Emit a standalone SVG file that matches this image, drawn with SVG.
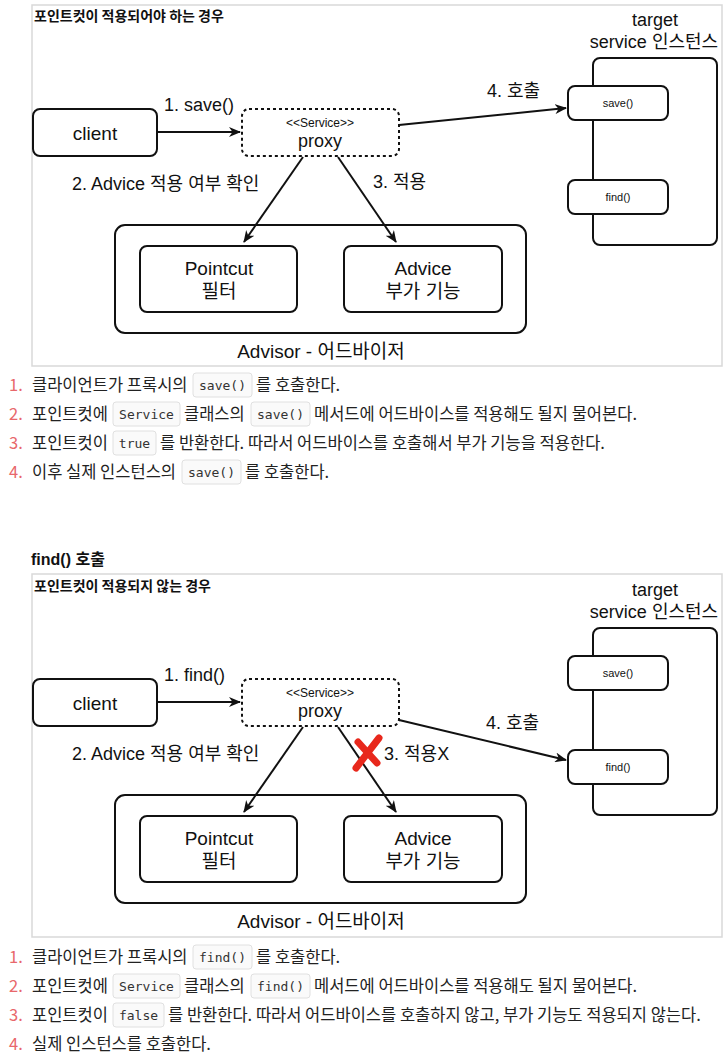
<svg xmlns="http://www.w3.org/2000/svg" width="728" height="1060" viewBox="0 0 728 1060">
<defs>
<marker id="arr" viewBox="0 0 12 10" refX="11" refY="5" markerWidth="12" markerHeight="10" orient="auto" markerUnits="userSpaceOnUse"><path d="M0,0 L12,5 L0,10 L3.5,5 z" fill="#111"/></marker>
</defs>
<style>
.frame{fill:#fff;stroke:#d9d9d9;stroke-width:1.5}
.box{fill:#fff;stroke:#111;stroke-width:2}
.dash{fill:#fff;stroke:#111;stroke-width:2;stroke-dasharray:3 3}
.ln{fill:none;stroke:#111;stroke-width:2;marker-end:url(#arr)}
.t{font-family:"Liberation Sans","Noto Sans CJK KR",sans-serif;fill:#111}
.lab{font-size:18px}
.big{font-size:19px;text-anchor:middle}
.mid{text-anchor:middle}
.sm{font-size:11px;text-anchor:middle}
.ttl{font-family:"Noto Sans CJK KR",sans-serif;font-size:14px;font-weight:bold;fill:#111}
.li{font-family:"Noto Sans CJK KR",sans-serif;font-size:16.5px;fill:#222}
.num{font-family:"Noto Sans CJK KR",sans-serif;font-size:16.5px;fill:#e8676b}
.chip{fill:#fafafa;stroke:#e0e0e0;stroke-width:1}
.code{font-family:"DejaVu Sans Mono",monospace;font-size:13px;fill:#333;text-anchor:middle}
.x{stroke:#e8281c;stroke-width:7;stroke-linecap:round}
</style>

<!-- ===== Diagram 1 ===== -->
<g id="frame1"><rect class="frame" x="32" y="5" width="690" height="361"/>
<text class="ttl" x="34" y="21">포인트컷이 적용되어야 하는 경우</text></g>

<g id="target1">
<rect class="box" x="593" y="58" width="124" height="187" rx="7"/>
<text class="t lab mid" x="655" y="26">target</text>
<text class="t lab mid" x="654" y="48">service 인스턴스</text>
</g>
<g id="save1"><rect class="box" x="568" y="86" width="100" height="34" rx="7"/><text class="t sm" x="618" y="107">save()</text></g>
<g id="find1"><rect class="box" x="568" y="180" width="100" height="34" rx="7"/><text class="t sm" x="618" y="201">find()</text></g>

<g id="client1"><rect class="box" x="33" y="109" width="124" height="47" rx="7"/><text class="t big" x="95" y="140">client</text></g>
<g id="proxy1"><rect class="dash" x="242" y="109" width="157" height="47" rx="7"/>
<text class="t mid" style="font-size:12px" x="320" y="127">&lt;&lt;Service&gt;&gt;</text>
<text class="t lab mid" x="320" y="147">proxy</text></g>

<g id="advisor1"><rect class="box" x="115" y="225" width="411" height="108" rx="10"/>
<text class="t big" x="321" y="358">Advisor - 어드바이저</text></g>
<g id="pointcut1"><rect class="box" x="140" y="246" width="157" height="66" rx="7"/>
<text class="t big" x="219" y="275">Pointcut</text><text class="t big" x="219" y="298">필터</text></g>
<g id="advice1"><rect class="box" x="344" y="246" width="158" height="66" rx="7"/>
<text class="t big" x="423" y="275">Advice</text><text class="t big" x="423" y="298">부가 기능</text></g>

<g id="connectors1">
<line class="ln" x1="157" y1="132" x2="240" y2="132"/>
<line class="ln" x1="399" y1="125" x2="566" y2="108"/>
<line class="ln" x1="303" y1="157" x2="244" y2="242"/>
<line class="ln" x1="338" y1="157" x2="396" y2="242"/>
</g>
<g id="labels1">
<text class="t lab" x="164" y="111">1. save()</text>
<text class="t lab" x="72" y="190">2. Advice 적용 여부 확인</text>
<text class="t lab" x="373" y="188">3. 적용</text>
<text class="t lab" x="487" y="97">4. 호출</text>
</g>

<!-- List 1 -->
<g id="list1">
<text class="num" x="9" y="391">1.</text>
<text class="li" x="32" y="391">클라이언트가 프록시의</text>
<rect class="chip" x="193" y="373" width="59" height="24" rx="3"/><text class="code" x="222.5" y="390">save()</text>
<text class="li" x="256" y="391">를 호출한다.</text>

<text class="num" x="9" y="420">2.</text>
<text class="li" x="32" y="420">포인트컷에</text>
<rect class="chip" x="113" y="402" width="67" height="24" rx="3"/><text class="code" x="146.5" y="419">Service</text>
<text class="li" x="184" y="420">클래스의</text>
<rect class="chip" x="251" y="402" width="59" height="24" rx="3"/><text class="code" x="280.5" y="419">save()</text>
<text class="li" x="314" y="420">메서드에 어드바이스를 적용해도 될지 물어본다.</text>

<text class="num" x="9" y="449">3.</text>
<text class="li" x="32" y="449">포인트컷이</text>
<rect class="chip" x="113" y="431" width="43" height="24" rx="3"/><text class="code" x="134.5" y="448">true</text>
<text class="li" x="160" y="449">를 반환한다. 따라서 어드바이스를 호출해서 부가 기능을 적용한다.</text>

<text class="num" x="9" y="478">4.</text>
<text class="li" x="32" y="478">이후 실제 인스턴스의</text>
<rect class="chip" x="182" y="460" width="59" height="24" rx="3"/><text class="code" x="211.5" y="477">save()</text>
<text class="li" x="245" y="478">를 호출한다.</text>
</g>

<text id="heading2" x="31" y="565" style="font-family:'Liberation Sans','Noto Sans CJK KR',sans-serif;font-size:16px;font-weight:bold;fill:#111">find() 호출</text>

<!-- ===== Diagram 2 ===== -->
<g id="frame2"><rect class="frame" x="32" y="574" width="690" height="363"/>
<text class="ttl" x="34" y="591">포인트컷이 적용되지 않는 경우</text></g>

<g id="target2">
<rect class="box" x="593" y="628" width="124" height="187" rx="7"/>
<text class="t lab mid" x="655" y="596">target</text>
<text class="t lab mid" x="654" y="618">service 인스턴스</text>
</g>
<g id="save2"><rect class="box" x="568" y="656" width="100" height="34" rx="7"/><text class="t sm" x="618" y="677">save()</text></g>
<g id="find2"><rect class="box" x="568" y="750" width="100" height="34" rx="7"/><text class="t sm" x="618" y="771">find()</text></g>

<g id="client2"><rect class="box" x="33" y="679" width="124" height="47" rx="7"/><text class="t big" x="95" y="710">client</text></g>
<g id="proxy2"><rect class="dash" x="242" y="679" width="157" height="47" rx="7"/>
<text class="t mid" style="font-size:12px" x="320" y="697">&lt;&lt;Service&gt;&gt;</text>
<text class="t lab mid" x="320" y="717">proxy</text></g>

<g id="advisor2"><rect class="box" x="115" y="795" width="411" height="108" rx="10"/>
<text class="t big" x="321" y="928">Advisor - 어드바이저</text></g>
<g id="pointcut2"><rect class="box" x="140" y="816" width="157" height="66" rx="7"/>
<text class="t big" x="219" y="845">Pointcut</text><text class="t big" x="219" y="868">필터</text></g>
<g id="advice2"><rect class="box" x="344" y="816" width="158" height="66" rx="7"/>
<text class="t big" x="423" y="845">Advice</text><text class="t big" x="423" y="868">부가 기능</text></g>

<g id="connectors2">
<line class="ln" x1="157" y1="702" x2="240" y2="702"/>
<line class="ln" x1="399" y1="720" x2="566" y2="760"/>
<line class="ln" x1="303" y1="727" x2="244" y2="812"/>
<line class="ln" x1="338" y1="727" x2="396" y2="812"/>
</g>
<g id="cross2">
<line class="x" x1="379" y1="738" x2="356" y2="768"/>
<line class="x" x1="358" y1="742" x2="377" y2="763"/>
</g>
<g id="labels2">
<text class="t lab" x="164" y="681">1. find()</text>
<text class="t lab" x="72" y="760">2. Advice 적용 여부 확인</text>
<text class="t lab" x="384" y="760">3. 적용X</text>
<text class="t lab" x="486" y="729">4. 호출</text>
</g>

<!-- List 2 -->
<g id="list2">
<text class="num" x="9" y="963">1.</text>
<text class="li" x="32" y="963">클라이언트가 프록시의</text>
<rect class="chip" x="193" y="945" width="59" height="24" rx="3"/><text class="code" x="222.5" y="962">find()</text>
<text class="li" x="256" y="963">를 호출한다.</text>

<text class="num" x="9" y="992">2.</text>
<text class="li" x="32" y="992">포인트컷에</text>
<rect class="chip" x="113" y="974" width="67" height="24" rx="3"/><text class="code" x="146.5" y="991">Service</text>
<text class="li" x="184" y="992">클래스의</text>
<rect class="chip" x="251" y="974" width="59" height="24" rx="3"/><text class="code" x="280.5" y="991">find()</text>
<text class="li" x="314" y="992">메서드에 어드바이스를 적용해도 될지 물어본다.</text>

<text class="num" x="9" y="1021">3.</text>
<text class="li" x="32" y="1021">포인트컷이</text>
<rect class="chip" x="113" y="1003" width="51" height="24" rx="3"/><text class="code" x="138.5" y="1020">false</text>
<text class="li" x="168" y="1021">를 반환한다. 따라서 어드바이스를 호출하지 않고, 부가 기능도 적용되지 않는다.</text>

<text class="num" x="9" y="1050">4.</text>
<text class="li" x="32" y="1050">실제 인스턴스를 호출한다.</text>
</g>
</svg>
